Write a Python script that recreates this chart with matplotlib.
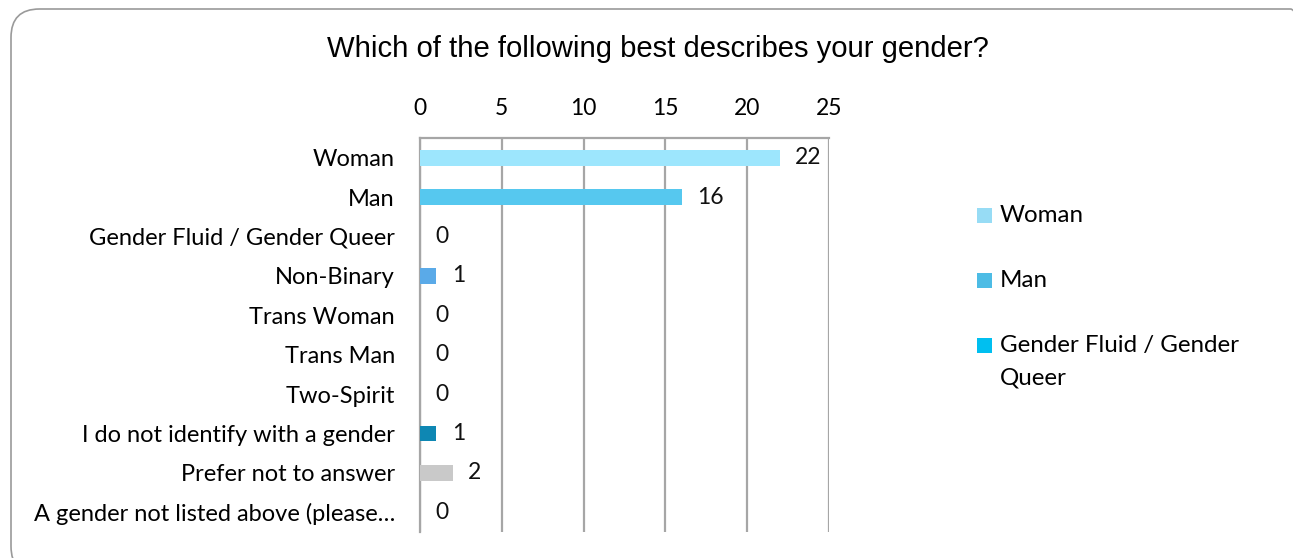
import matplotlib
matplotlib.use("Agg")
import matplotlib.pyplot as plt
from matplotlib.patches import FancyBboxPatch, Rectangle

categories = [
    "Woman",
    "Man",
    "Gender Fluid / Gender Queer",
    "Non-Binary",
    "Trans Woman",
    "Trans Man",
    "Two-Spirit",
    "I do not identify with a gender",
    "Prefer not to answer",
    "A gender not listed above (please\u2026",
]
counts = [22, 16, 0, 1, 0, 0, 0, 1, 2, 0]
bar_colors = ["#9DE6FD", "#56C8EF", "#00BFF0", "#5AAAE8", "#3FA6D8",
              "#2F93C4", "#1E8AB8", "#0E87B3", "#C9C9C9", "#A0A0A0"]
legend_labels = ["Woman", "Man", "Gender Fluid / Gender\nQueer"]
legend_colors = ["#97DCF5", "#4DBCE5", "#00BFF0"]

plt.rcParams["font.family"] = ["Lato", "DejaVu Sans"]
W, H = 1293, 558

fig = plt.figure(figsize=(W / 100, H / 100), dpi=100)
# rounded chart border
fig.patches.append(FancyBboxPatch((11 / W, -0.03), 1.02 - 11 / W, 1 - 9 / H + 0.03,
                                  boxstyle="round,pad=0,rounding_size=0.022",
                                  transform=fig.transFigure, fc="none", zorder=-1,
                                  ec="#9A9A9A", lw=1.2, mutation_aspect=W / H))

ax = fig.add_axes([420 / W, 26 / H, 409 / W, 394 / H])
ax.set_facecolor("none")
y = list(range(len(categories)))
ax.barh(y, counts, height=0.4, color=bar_colors, zorder=3)
for yi, v in zip(y, counts):
    ax.annotate(str(v), (v, yi), xytext=(11, 0), textcoords="offset points",
                va="center", ha="left", fontsize=16.5, color="#111111")

ax.set_xlim(0, 25)
ax.set_ylim(len(categories) - 0.5, -0.5)
ax.set_xticks(range(0, 26, 5))
ax.set_yticks(y)
ax.set_yticklabels(categories)
ax.xaxis.tick_top()
ax.tick_params(axis="x", length=0, pad=14, labelsize=16.5)
ax.tick_params(axis="y", length=0, pad=18, labelsize=17)
ax.grid(axis="x", color="#A6A6A6", lw=1.6, zorder=0)
for s in ["right", "bottom"]:
    ax.spines[s].set_visible(False)
for s in ["left", "top"]:
    ax.spines[s].set_color("#A6A6A6")
    ax.spines[s].set_linewidth(1.6)

fig.text(658 / W, 1 - 49 / H, "Which of the following best describes your gender?",
         ha="center", va="center", fontsize=21.1, family=["Liberation Sans", "DejaVu Sans"])

# legend (only the first three entries fit, as in the original)
leg_y = [215, 280, 345]
for lab, col, ly in zip(legend_labels, legend_colors, leg_y):
    fig.patches.append(Rectangle((977 / W, 1 - (ly + 7.5) / H), 15 / W, 15 / H,
                                 transform=fig.transFigure, fc=col, ec="none"))
    fig.text(1000 / W, 1 - (ly - 10) / H, lab, ha="left", va="top",
             fontsize=17.4, linespacing=1.65)

fig.savefig("out.png", dpi=100)
